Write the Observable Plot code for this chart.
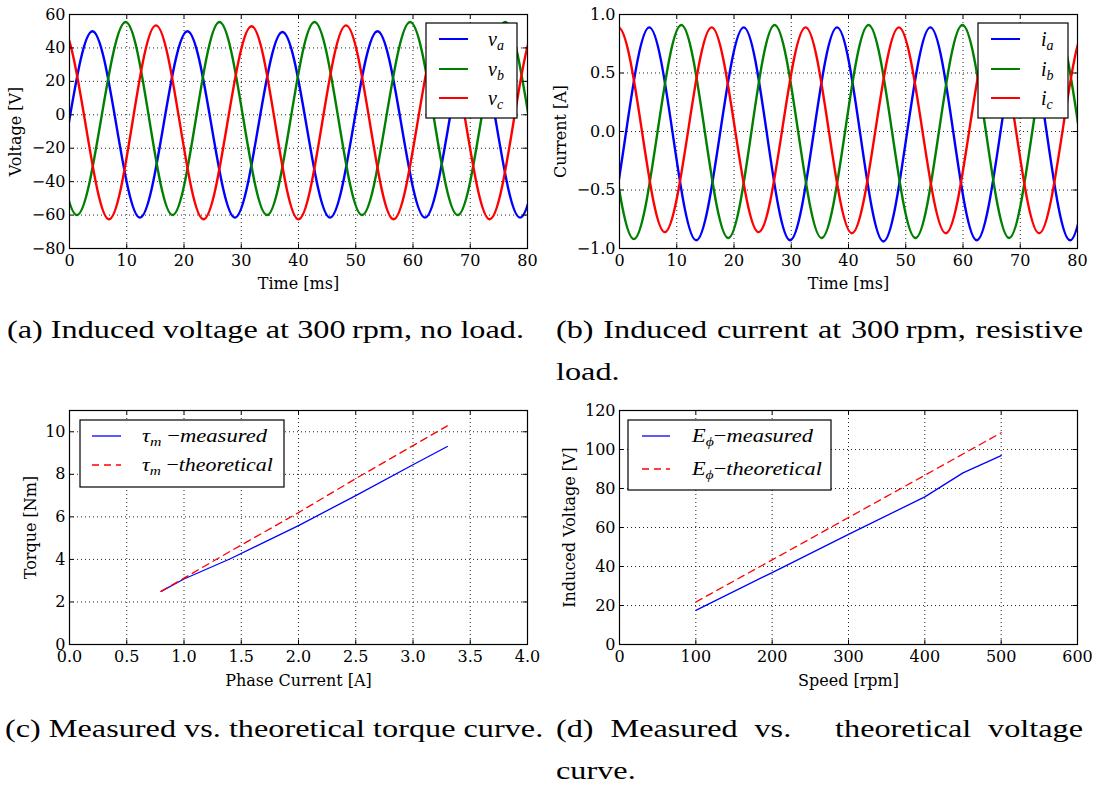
<!DOCTYPE html>
<html><head><meta charset="utf-8">
<script src="https://cdn.jsdelivr.net/npm/d3@7"></script>
<script src="https://cdn.jsdelivr.net/npm/@observablehq/plot@0.6"></script>
<style>
html,body{margin:0;padding:0;background:#fff;}
#root{position:relative;width:1096px;height:786px;overflow:hidden;background:#fff;}
</style></head>
<body><div id="root"></div>
<script>
// ---------- data ----------
// (a) induced voltage, 300 rpm no load: [time ms, voltage V] (peaks, troughs and mid-level crossings)
const va = [[-0.15,-5.5],[4.0,50],[8.15,-5.5],[12.3,-61.5],[16.45,-5.5],[20.6,50],[24.75,-5.5],[28.9,-61.5],[33.05,-5.5],[37.2,49.5],[41.35,-5.5],[45.5,-61.5],[49.65,-5.5],[53.8,50],[57.95,-5.5],[62.1,-61.5],[66.25,-5.5],[70.4,50],[74.55,-5.5],[78.7,-61.5],[82.85,-5.5]];
const vb = [[-2.85,-2],[1.3,-60],[5.55,-2],[9.8,55.5],[13.9,-2],[18.0,-60],[22.1,-2],[26.2,55.5],[30.35,-2],[34.5,-60],[38.65,-2],[42.8,55.5],[46.95,-2],[51.1,-60],[55.3,-2],[59.5,55.5],[63.65,-2],[67.8,-60],[71.95,-2],[76.1,55.5],[80.25,-2]];
const vc = [[-5.65,-4.5],[-1.5,53.5],[2.75,-4.5],[6.9,-62.5],[11.0,-4.5],[15.1,53.5],[19.25,-4.5],[23.4,-62.5],[27.6,-4.5],[31.8,53],[35.9,-4.5],[40.0,-62.5],[44.15,-4.5],[48.3,53.5],[52.45,-4.5],[56.6,-62.5],[60.8,-4.5],[65.0,53.5],[69.2,-4.5],[73.4,-62.5],[77.55,-4.5],[81.7,53.5],[85.85,-4.5]];
// (b) induced current, resistive load: [time ms, current A]
const ia = [[-7.0,-0.02],[-2.95,-0.93],[1.1,-0.02],[5.2,0.89],[9.3,-0.02],[13.4,-0.93],[17.55,-0.02],[21.7,0.89],[25.75,-0.02],[29.8,-0.93],[33.9,-0.02],[38.0,0.89],[42.05,-0.02],[46.1,-0.94],[50.2,-0.02],[54.3,0.89],[58.35,-0.02],[62.4,-0.93],[66.5,-0.02],[70.6,0.89],[74.65,-0.02],[78.7,-0.93],[82.8,-0.02]];
const ib = [[-1.6,0],[2.5,-0.92],[6.65,0],[10.8,0.91],[14.9,0],[19.0,-0.91],[23.05,0],[27.1,0.91],[31.2,0],[35.3,-0.91],[39.4,0],[43.5,0.91],[47.6,0],[51.7,-0.91],[55.8,0],[59.9,0.91],[64.0,0],[68.05,-0.91],[72.1,0],[76.2,0.91],[80.3,0]];
const ic = [[-4.3,0.01],[-0.2,0.89],[3.9,0.01],[7.9,-0.86],[12.0,0.01],[16.1,0.89],[20.2,0.01],[24.3,-0.86],[28.4,0.01],[32.5,0.89],[36.55,0.01],[40.6,-0.87],[44.7,0.01],[48.8,0.89],[52.9,0.01],[57.0,-0.87],[61.1,0.01],[65.2,0.89],[69.25,0.01],[73.3,-0.87],[77.4,0.01],[81.5,0.89],[85.6,0.01]];
// (c) torque vs phase current
const phaseCurrent = [0.8, 1.0, 1.4, 2.0, 2.5, 3.0, 3.3];
const torqueMeasured = [2.5, 3.08, 4.02, 5.59, 7.0, 8.45, 9.31];
const torqueTheoretical = [2.5, 3.12, 4.37, 6.2, 7.8, 9.35, 10.28];
// (d) induced voltage vs speed
const speedRpm = [100, 200, 300, 400, 450, 500];
const voltMeasured = [17.5, 36.9, 56.5, 75.7, 88.0, 96.9];
const voltTheoretical = [21.8, 43.4, 65.1, 86.8, 97.7, 108.6];

// ticks
const xTicksTime = [0,10,20,30,40,50,60,70,80];
const yTicksVolt = [-80,-60,-40,-20,0,20,40,60];
const yTicksCurr = [-1,-0.5,0,0.5,1];
const xTicksPhase = [0,0.5,1,1.5,2,2.5,3,3.5,4];
const yTicksTorque = [0,2,4,6,8,10];
const xTicksSpeed = [0,100,200,300,400,500,600];
const yTicksInd = [0,20,40,60,80,100,120];

// texts
const axisLabels = {a:["Time [ms]","Voltage [V]"], b:["Time [ms]","Current [A]"], c:["Phase Current [A]","Torque [Nm]"], d:["Speed [rpm]","Induced Voltage [V]"]};
const captionA = "(a) Induced voltage at 300\u2009rpm, no load.";
const captionB1 = "(b) Induced current at 300\u2009rpm, resistive";
const captionB2 = "load.";
const captionC = "(c) Measured vs. theoretical torque curve.";
const captionD1 = "(d) Measured vs. theoretical voltage";
const captionD2 = "curve.";

// ---------- drawing ----------
const W = 1096, H = 786;
const root = document.getElementById("root");
const BLUE = "#0000ff", GREEN = "#008000", RED = "#ff0000";
const fmtInt = d => (d < 0 ? "\u2212" : "") + Math.abs(d);
const fmt1 = d => (d < 0 ? "\u2212" : "") + Math.abs(d).toFixed(1);
const toPairs = (xs, ys) => xs.map((x, i) => [x, ys[i]]);

function makePanel(p) {
  const fw = p.width - p.mL - p.mR, fh = p.height - p.mT - p.mB;
  const tl = 4.5;
  const grid = {stroke: "#000", strokeWidth: 1, strokeOpacity: 0.85, strokeDasharray: "1,3"};
  const marks = [
    Plot.ruleX(p.xTicks, {x: d => d, ...grid}),
    Plot.ruleY(p.yTicks, {y: d => d, ...grid}),
    ...p.series.map(s => Plot.line(s.data, {x: d => d[0], y: d => d[1], stroke: s.color, strokeWidth: s.width, strokeDasharray: s.dash, curve: s.curve || "linear", clip: true})),
    Plot.tickX(p.xTicks, {x: d => d, insetTop: fh - tl, stroke: "#000"}),
    Plot.tickX(p.xTicks, {x: d => d, insetBottom: fh - tl, stroke: "#000"}),
    Plot.tickY(p.yTicks, {y: d => d, insetRight: fw - tl, stroke: "#000"}),
    Plot.tickY(p.yTicks, {y: d => d, insetLeft: fw - tl, stroke: "#000"}),
    Plot.frame({stroke: "#000", strokeWidth: 1.2}),
    Plot.axisX({ticks: p.xTicks, tickSize: 0, tickPadding: 6, tickFormat: p.xFmt, label: null}),
    Plot.axisY({ticks: p.yTicks, tickSize: 0, tickPadding: 4, tickFormat: p.yFmt, label: null}),
    Plot.text([p.labels[0]], {frameAnchor: "bottom", dy: p.xLabelDy, text: d => d, textAnchor: "middle", lineAnchor: "middle"}),
    Plot.text([p.labels[1]], {frameAnchor: "left", dx: p.yLabelDx, rotate: -90, text: d => d, textAnchor: "middle", lineAnchor: "middle"})
  ];
  const svg = Plot.plot({
    width: p.width, height: p.height,
    marginLeft: p.mL, marginRight: p.mR, marginTop: p.mT, marginBottom: p.mB,
    x: {domain: p.xDomain}, y: {domain: p.yDomain},
    style: {fontFamily: "'DejaVu Serif', serif", fontSize: "16px", color: "#000", background: "transparent", overflow: "visible"},
    marks
  });
  svg.style.position = "absolute";
  svg.style.left = p.left + "px";
  svg.style.top = p.top + "px";
  root.appendChild(svg);
  return svg;
}

const legFont = "'Liberation Serif', 'Times New Roman', serif";
function legend(svg, cfg) {
  const g = d3.select(svg).append("g").attr("text-anchor", "start");
  g.append("rect").attr("x", cfg.x).attr("y", cfg.y).attr("width", cfg.w).attr("height", cfg.h)
    .attr("fill", "#fff").attr("stroke", "#000").attr("stroke-width", 1.2);
  cfg.rows.forEach(r => {
    g.append("line").attr("x1", cfg.lx1).attr("x2", cfg.lx2).attr("y1", r.y).attr("y2", r.y)
      .attr("stroke", r.color).attr("stroke-width", r.width).attr("stroke-dasharray", r.dash || null);
    const t = g.append("text").attr("x", 0).attr("y", 0).attr("text-anchor", "start")
      .attr("font-family", legFont).attr("font-size", cfg.fs).attr("fill", "#000");
    let inSub = false;
    r.parts.forEach(pt => {
      const ts = t.append("tspan").text(pt.t).attr("font-style", pt.i ? "italic" : "normal");
      if (pt.sub) { ts.attr("font-size", cfg.fs * 0.7); if (!inSub) { ts.attr("dy", cfg.subDy); inSub = true; } }
      else if (inSub) { ts.attr("dy", -cfg.subDy); inSub = false; }
    });
    let sx = 1;
    if (r.len) { const nat = t.node().getComputedTextLength(); if (nat > 0) sx = r.len / nat; }
    t.attr("transform", `translate(${cfg.tx},${r.y + cfg.base}) scale(${sx},1)`);
  });
}

// panel (a)
const svgA = makePanel({left: 0, top: 0, width: 545, height: 300, mL: 69, mR: 18, mT: 14, mB: 52,
  xDomain: [0, 80], yDomain: [-80, 60], xTicks: xTicksTime, yTicks: yTicksVolt, xFmt: fmtInt, yFmt: fmtInt,
  labels: axisLabels.a, xLabelDy: 35.5, yLabelDx: -53.5,
  series: [{data: va, color: BLUE, width: 2.4, curve: "natural"}, {data: vb, color: GREEN, width: 2.4, curve: "natural"}, {data: vc, color: RED, width: 2.4, curve: "natural"}]});
legend(svgA, {x: 426, y: 23, w: 91, h: 95, lx1: 439, lx2: 468, tx: 488, base: 7, fs: 20, subDy: 4,
  rows: [
    {y: 39, color: BLUE, width: 2, parts: [{t: "v", i: true}, {t: "a", i: true, sub: true}]},
    {y: 69, color: GREEN, width: 2, parts: [{t: "v", i: true}, {t: "b", i: true, sub: true}]},
    {y: 98, color: RED, width: 2, parts: [{t: "v", i: true}, {t: "c", i: true, sub: true}]}
  ]});

// panel (b)
const svgB = makePanel({left: 545, top: 0, width: 551, height: 300, mL: 74, mR: 19, mT: 14, mB: 52,
  xDomain: [0, 80], yDomain: [-1, 1], xTicks: xTicksTime, yTicks: yTicksCurr, xFmt: fmtInt, yFmt: fmt1,
  labels: axisLabels.b, xLabelDy: 35.5, yLabelDx: -58.5,
  series: [{data: ia, color: BLUE, width: 2.4, curve: "natural"}, {data: ib, color: GREEN, width: 2.4, curve: "natural"}, {data: ic, color: RED, width: 2.4, curve: "natural"}]});
legend(svgB, {x: 433, y: 23, w: 90, h: 95, lx1: 446, lx2: 475, tx: 496, base: 7, fs: 20, subDy: 4,
  rows: [
    {y: 39, color: BLUE, width: 2, parts: [{t: "i", i: true}, {t: "a", i: true, sub: true}]},
    {y: 69, color: GREEN, width: 2, parts: [{t: "i", i: true}, {t: "b", i: true, sub: true}]},
    {y: 98, color: RED, width: 2, parts: [{t: "i", i: true}, {t: "c", i: true, sub: true}]}
  ]});

// panel (c)
const svgC = makePanel({left: 0, top: 390, width: 545, height: 300, mL: 69, mR: 18, mT: 20, mB: 46,
  xDomain: [0, 4], yDomain: [0, 11], xTicks: xTicksPhase, yTicks: yTicksTorque, xFmt: fmt1, yFmt: fmtInt,
  labels: axisLabels.c, xLabelDy: 36, yLabelDx: -38.5,
  series: [{data: toPairs(phaseCurrent, torqueMeasured), color: BLUE, width: 1.3},
           {data: toPairs(phaseCurrent, torqueTheoretical), color: RED, width: 1.3, dash: "7,5"}]});
legend(svgC, {x: 80, y: 30, w: 204, h: 67, lx1: 92, lx2: 121, tx: 142, base: 6, fs: 19, subDy: 4,
  rows: [
    {y: 46, color: BLUE, width: 1.3, len: 125, parts: [{t: "\u03c4", i: true}, {t: "m", i: true, sub: true}, {t: " \u2212", i: false}, {t: "measured", i: true}]},
    {y: 75, color: RED, width: 1.3, dash: "7,5", len: 131, parts: [{t: "\u03c4", i: true}, {t: "m", i: true, sub: true}, {t: " \u2212", i: false}, {t: "theoretical", i: true}]}
  ]});

// panel (d)
const svgD = makePanel({left: 545, top: 390, width: 551, height: 300, mL: 74, mR: 19, mT: 20, mB: 46,
  xDomain: [0, 600], yDomain: [0, 120], xTicks: xTicksSpeed, yTicks: yTicksInd, xFmt: fmtInt, yFmt: fmtInt,
  labels: axisLabels.d, xLabelDy: 36, yLabelDx: -50,
  series: [{data: toPairs(speedRpm, voltMeasured), color: BLUE, width: 1.3},
           {data: toPairs(speedRpm, voltTheoretical), color: RED, width: 1.3, dash: "7,5"}]});
legend(svgD, {x: 83, y: 30, w: 203, h: 70, lx1: 97, lx2: 125, tx: 147, base: 6, fs: 19, subDy: 4,
  rows: [
    {y: 46, color: BLUE, width: 1.3, len: 121, parts: [{t: "E", i: true}, {t: "\u03d5", i: true, sub: true}, {t: "\u2212", i: false}, {t: "measured", i: true}]},
    {y: 79, color: RED, width: 1.3, dash: "7,5", len: 130, parts: [{t: "E", i: true}, {t: "\u03d5", i: true, sub: true}, {t: "\u2212", i: false}, {t: "theoretical", i: true}]}
  ]});

// ---------- captions ----------
const capFont = "'Liberation Serif', 'Times New Roman', serif";
const capSize = 26;
const capSvg = d3.select(root).append("svg").attr("width", W).attr("height", H)
  .style("position", "absolute").style("left", "0px").style("top", "0px").style("pointer-events", "none");
function measure(str) {
  const t = capSvg.append("text").attr("font-family", capFont).attr("font-size", capSize).text(str);
  const w = t.node().getComputedTextLength(); t.remove(); return w;
}
const kScale = 517 / measure(captionA);
function capLine(str, x, y) {
  capSvg.append("text").attr("x", x).attr("y", y).attr("font-family", capFont).attr("font-size", capSize)
    .attr("fill", "#000").attr("textLength", measure(str) * kScale).attr("lengthAdjust", "spacingAndGlyphs").text(str);
}
function capJustify(str, x, y, width, weights) {
  const words = str.split(" ");
  const ws = words.map(w => measure(w) * kScale);
  const total = ws.reduce((a, b) => a + b, 0);
  const wts = weights || words.slice(1).map(() => 1);
  const unit = (width - total) / wts.reduce((a, b) => a + b, 0);
  let cx = x;
  words.forEach((w, i) => {
    capSvg.append("text").attr("x", cx).attr("y", y).attr("font-family", capFont).attr("font-size", capSize)
      .attr("fill", "#000").attr("textLength", ws[i]).attr("lengthAdjust", "spacingAndGlyphs").text(w);
    cx += ws[i] + (i < wts.length ? wts[i] * unit : 0);
  });
}
capLine(captionA, 7, 338);
capJustify(captionB1, 556, 338, 527);
capLine(captionB2, 556, 380);
capLine(captionC, 5, 737);
capJustify(captionD1, 556, 737, 527, [1, 1, 2.6, 1]);
capLine(captionD2, 556, 779);
</script></body></html>
